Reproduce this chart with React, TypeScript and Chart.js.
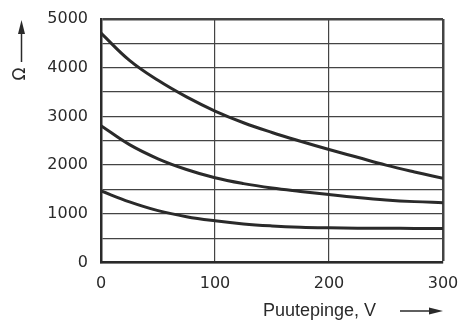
import React, { useEffect, useRef } from "react";
import { Chart, registerables } from "chart.js";

Chart.register(...registerables);

const voltage = [0, 25, 50, 75, 100, 125, 150, 175, 200, 225, 250, 275, 300];
const upperCurve = [4710, 4150, 3740, 3400, 3110, 2870, 2670, 2490, 2320, 2160, 2000, 1860, 1730];
const middleCurve = [2810, 2420, 2130, 1910, 1740, 1620, 1530, 1460, 1395, 1335, 1285, 1250, 1228];
const lowerCurve = [1470, 1245, 1065, 940, 855, 790, 750, 725, 712, 705, 702, 700, 700];
const xTicks = [0, 100, 200, 300];
const yTicks = [0, 1000, 2000, 3000, 4000, 5000];
const xTitle = "Puutepinge, V";
const yTitle = "Ω";

const INK = "#2a2a2a";

const annotations = {
  id: "annotations",
  afterDraw(chart: any) {
    const ctx = chart.ctx;
    ctx.save();
    ctx.fillStyle = INK;
    ctx.strokeStyle = INK;
    // x title
    ctx.font = "18px 'Liberation Sans', Arial, sans-serif";
    ctx.textBaseline = "middle";
    ctx.textAlign = "left";
    ctx.fillText(xTitle, 263, 311);
    // x arrow
    ctx.lineWidth = 1.5;
    ctx.beginPath();
    ctx.moveTo(400, 311);
    ctx.lineTo(436, 311);
    ctx.stroke();
    ctx.beginPath();
    ctx.moveTo(443, 311);
    ctx.lineTo(429, 307.5);
    ctx.lineTo(429, 314.5);
    ctx.closePath();
    ctx.fill();
    // y arrow
    ctx.beginPath();
    ctx.moveTo(21.5, 62);
    ctx.lineTo(21.5, 27);
    ctx.stroke();
    ctx.beginPath();
    ctx.moveTo(21.5, 20);
    ctx.lineTo(18, 34);
    ctx.lineTo(25, 34);
    ctx.closePath();
    ctx.fill();
    // y title
    ctx.translate(21, 74);
    ctx.rotate(-Math.PI / 2);
    ctx.font = "17px 'DejaVu Sans', sans-serif";
    ctx.textAlign = "center";
    ctx.textBaseline = "middle";
    ctx.fillText(yTitle, 0, 0);
    ctx.restore();
  },
};

export default function App() {
  const ref = useRef<HTMLCanvasElement | null>(null);

  useEffect(() => {
    document.body.style.margin = "0";
    const mk = (vals: number[]) => ({
      data: voltage.map((v, i) => ({ x: v, y: vals[i] })),
      borderColor: INK,
      borderWidth: 3,
      pointRadius: 0,
      fill: false,
      tension: 0.4,
    });
    const chart = new Chart(ref.current!, {
      type: "line",
      data: {
        datasets: [mk(upperCurve), mk(middleCurve), mk(lowerCurve)],
      },
      plugins: [annotations],
      options: {
        animation: false,
        responsive: false,
        maintainAspectRatio: false,
        layout: { padding: { top: 19, right: 15, left: 0, bottom: 0 } },
        plugins: { legend: { display: false }, tooltip: { enabled: false } },
        scales: {
          x: {
            type: "linear",
            min: 0,
            max: 300,
            afterBuildTicks: (s: any) => {
              s.ticks = xTicks.map((v) => ({ value: v }));
            },
            afterFit: (s: any) => {
              s.height = 58.5;
              s.paddingLeft = 0;
              s.paddingRight = 0;
            },
            grid: {
              color: "#444",
              lineWidth: (c: any) => (c.tick && c.tick.value === 300 ? 2.5 : 1.2),
              drawTicks: false,
            },
            border: { display: true, color: INK, width: 2.5 },
            ticks: {
              color: INK,
              font: { family: "'DejaVu Sans', sans-serif", size: 16 },
              padding: 12,
              maxRotation: 0,
            },
          },
          y: {
            min: 0,
            max: 5000,
            afterBuildTicks: (s: any) => {
              const t = [];
              for (let v = 0; v <= 5000; v += 500) t.push({ value: v });
              s.ticks = t;
            },
            afterFit: (s: any) => {
              s.width = 101;
              s.paddingTop = 0;
              s.paddingBottom = 0;
            },
            grid: {
              color: "#444",
              lineWidth: (c: any) => (c.tick && c.tick.value === 5000 ? 2.5 : 1.3),
              drawTicks: false,
            },
            border: { display: true, color: INK, width: 2.5 },
            ticks: {
              color: INK,
              font: { family: "'DejaVu Sans', sans-serif", size: 16 },
              padding: 13,
              autoSkip: false,
              callback: (v: any) => (yTicks.includes(Number(v)) ? String(v) : ""),
            },
          },
        },
      },
    });
    return () => chart.destroy();
  }, []);

  return (
    <div style={{ width: 458, height: 321, background: "#fff" }}>
      <canvas ref={ref} width={458} height={321} style={{ width: 458, height: 321, display: "block" }} />
    </div>
  );
}
